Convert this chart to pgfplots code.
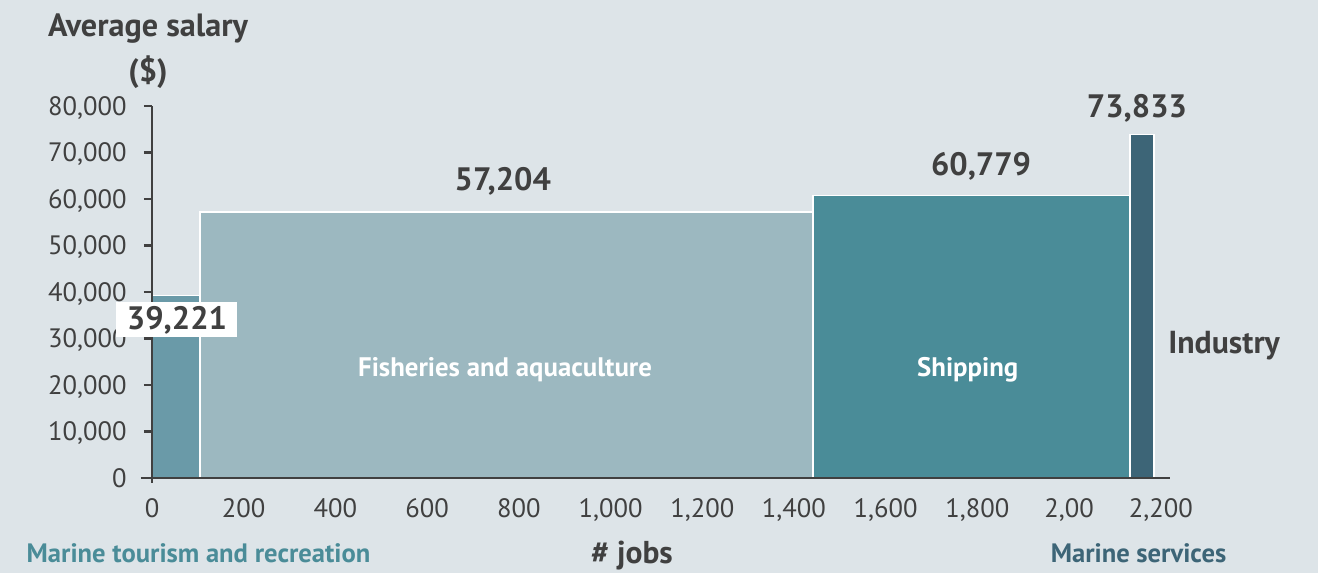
\documentclass[border=0pt]{standalone}
\usepackage{pgfplots}
\pgfplotsset{compat=1.18}
\usepackage{fontspec}
\setmainfont{PT Sans}
\definecolor{bg}{HTML}{DDE4E8}
\definecolor{txt}{HTML}{404040}
\definecolor{cTour}{HTML}{6A9AA8}
\definecolor{cFish}{HTML}{9CB8C0}
\definecolor{cShip}{HTML}{4A8C98}
\definecolor{cServ}{HTML}{3D6577}
\begin{document}
\begin{tikzpicture}
\fill[bg] (-76pt,-47.5pt) rectangle (583pt,239pt);
\begin{axis}[
  at={(0,0)}, anchor=origin,
  scale only axis,
  width=509pt, height=186pt,
  xmin=0, xmax=2220, ymin=0, ymax=80000,
  axis on top,
  axis x line*=bottom, axis y line*=left,
  axis line style={txt, line width=1.3pt, -},
  x axis line style={shorten <=-5.5pt},
  y axis line style={shorten <=-2.5pt},
  xtick={0,200,...,2200},
  xticklabels={0,200,400,600,800,{1,000},{1,200},{1,400},{1,600},{1,800},{2,00},{2,200}},
  x tick style={draw=none},
  ytick={0,10000,...,80000},
  scaled y ticks=false,
  y tick style={txt, line width=1.3pt},
  tick align=outside,
  major tick length=4pt,
  /pgf/number format/.cd, 1000 sep={,}, assume math mode=true,
  /pgfplots/.cd,
  tick label style={font=\fontsize{13.3}{15}\selectfont, text=txt},
  xticklabel style={anchor=base, inner sep=0pt, yshift=-16pt},
  yticklabel style={anchor=base east, inner sep=0pt, xshift=-8.5pt, yshift=-4.7pt},
  clip=false,
]
\addplot[fill=cTour, draw=white, line width=0.75pt] coordinates {(0,0) (105,0) (105,39221) (0,39221)} --cycle;
\addplot[fill=cFish, draw=white, line width=0.75pt] coordinates {(105,0) (1441,0) (1441,57204) (105,57204)} --cycle;
\addplot[fill=cShip, draw=white, line width=0.75pt] coordinates {(1441,0) (2133,0) (2133,60779) (1441,60779)} --cycle;
\addplot[fill=cServ, draw=white, line width=0.75pt] coordinates {(2133,0) (2185,0) (2185,73833) (2133,73833)} --cycle;

\node[font=\fontsize{16.2}{19}\selectfont\bfseries, text=txt] at (axis cs:765,63900) {57,204};
\node[font=\fontsize{16.2}{19}\selectfont\bfseries, text=txt] at (axis cs:1808,67100) {60,779};
\node[font=\fontsize{16.2}{19}\selectfont\bfseries, text=txt] at (axis cs:2148,79400) {73,833};
\coordinate (lab) at (axis cs:54.5,34000);
\node[font=\fontsize{13.4}{16}\selectfont\bfseries, text=white] at (axis cs:770,23300) {Fisheries and aquaculture};
\node[font=\fontsize{13.4}{16}\selectfont\bfseries, text=white] at (axis cs:1779,23300) {Shipping};
\node[font=\fontsize{15.9}{18}\selectfont\bfseries, text=txt] at (axis cs:2338,28500) {Industry};
\end{axis}
\node[fill=white, font=\fontsize{16.2}{19}\selectfont\bfseries, text=txt, minimum width=60.5pt, minimum height=17.5pt, inner sep=0pt] at (lab) {39,221};
\node[font=\fontsize{16.1}{19}\selectfont\bfseries, text=txt] at (-2pt,224.5pt) {Average salary};
\node[font=\fontsize{16.1}{19}\selectfont\bfseries, text=txt] at (-2pt,203pt) {(\$)};
\node[font=\fontsize{15.8}{18}\selectfont\bfseries, text=txt] at (240pt,-39pt) {\# jobs};
\node[font=\fontsize{13.3}{15}\selectfont\bfseries, text=cShip] at (23.25pt,-37.5pt) {Marine tourism and recreation};
\node[font=\fontsize{13.3}{15}\selectfont\bfseries, text=cServ] at (493.25pt,-37.5pt) {Marine services};
\end{tikzpicture}
\end{document}
